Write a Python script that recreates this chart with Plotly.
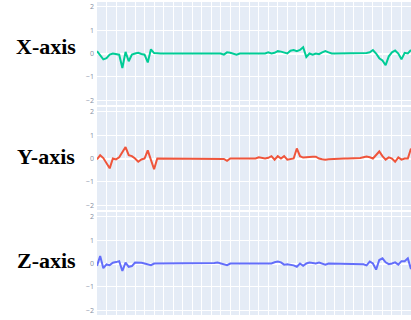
import plotly.graph_objects as go

# Sample index
samples = list(range(100))

x_axis_vals = [0.1, -0.1, -0.25, -0.2, -0.05, 0.0, -0.02, -0.05, -0.62, 0.07,
               -0.33, -0.05, 0.0, 0.03, -0.02, -0.05, -0.38, 0.18, 0.02, 0.0,
               0.0, 0.0, 0.0, 0.0, 0.0, 0.0, 0.0, 0.0, 0.0, 0.0,
               0.0, 0.0, 0.0, 0.0, 0.0, 0.0, 0.0, 0.0, 0.0, 0.0,
               -0.05, 0.05, 0.03, 0.0, -0.05, 0.0, 0.0, 0.0, 0.0, 0.0,
               0.0, 0.0, 0.0, 0.0, 0.05, 0.0, 0.03, 0.1, 0.08, 0.03,
               0.0, 0.12, 0.15, 0.1, 0.15, 0.27, -0.15, 0.0, -0.05, 0.0,
               -0.03, 0.05, 0.1, 0.05, 0.0, 0.0, 0.0, 0.0, 0.0, 0.0,
               0.0, 0.0, 0.0, 0.0, 0.0, 0.02, 0.05, 0.15, 0.0, -0.2,
               -0.3, -0.5, -0.12, 0.05, 0.13, 0.0, -0.25, 0.03, 0.0, 0.15]

y_axis_vals = [-0.04, 0.14, 0.02, -0.2, -0.42, 0.0, -0.04, 0.05, 0.25, 0.49,
               0.14, 0.1, 0.0, -0.14, -0.04, 0.0, 0.35, -0.1, -0.46, 0.0,
               0.0, 0.0, 0.0, 0.0, 0.0, 0.0, 0.0, 0.0, 0.0, 0.0,
               0.0, 0.0, 0.0, 0.0, 0.0, 0.0, 0.0, 0.0, 0.0, 0.0,
               -0.02, -0.1, 0.0, 0.0, 0.0, 0.0, 0.0, 0.0, 0.0, 0.0,
               0.0, 0.05, 0.02, 0.0, 0.03, 0.1, -0.05, 0.1, 0.0, 0.1,
               -0.05, -0.02, 0.0, 0.43, 0.1, 0.04, 0.06, 0.08, 0.08, 0.08,
               0.0, -0.03, -0.05, -0.03, -0.02, 0.0, 0.0, 0.0, 0.0, 0.0,
               0.0, 0.0, 0.0, 0.02, 0.05, 0.08, 0.05, 0.0, 0.15, 0.3,
               0.1, -0.05, 0.05, 0.0, -0.14, 0.05, -0.05, 0.0, 0.0, 0.43]

z_axis_vals = [-0.1, 0.32, -0.2, -0.04, -0.07, 0.03, 0.06, 0.1, -0.32, 0.04,
               -0.14, -0.11, 0.04, 0.04, 0.03, 0.0, -0.05, -0.07, 0.0, 0.0,
               0.0, 0.0, 0.0, 0.0, 0.0, 0.0, 0.0, 0.0, 0.0, 0.0,
               0.0, 0.0, 0.0, 0.0, 0.0, 0.0, 0.0, 0.02, 0.04, 0.0,
               -0.05, -0.07, 0.0, 0.0, 0.0, 0.0, 0.0, 0.0, 0.0, 0.0,
               0.0, 0.0, 0.0, 0.0, 0.0, 0.0, 0.05, 0.08, 0.05, -0.05,
               -0.03, -0.05, -0.08, -0.14, 0.0, -0.1, 0.0, 0.04, 0.02, 0.0,
               0.04, -0.02, -0.05, 0.0, 0.0, 0.0, 0.0, 0.0, 0.0, 0.0,
               0.0, 0.0, 0.0, 0.0, -0.03, -0.08, 0.08, 0.0, -0.26, 0.15,
               0.22, 0.05, -0.03, 0.0, 0.05, -0.05, 0.1, 0.1, 0.22, -0.24]

labels = ["X-axis", "Y-axis", "Z-axis"]
colors = ["#00cc96", "#EF553B", "#636efa"]
y_ticks = [-2, -1, 0, 1, 2]

W, H = 411, 320
domains = [[1 - 105 / H, 1 - 2 / H], [1 - 210 / H, 1 - 107 / H], [1 - 315 / H, 1 - 212 / H]]
label_y = [1 - 46.5 / H, 1 - 156 / H, 1 - 260 / H]

fig = go.Figure()
series = [x_axis_vals, y_axis_vals, z_axis_vals]
for k, vals in enumerate(series):
    suffix = "" if k == 0 else str(k + 1)
    fig.add_trace(go.Scatter(x=samples, y=vals, mode="lines",
                             line=dict(color=colors[k], width=2),
                             xaxis="x" + suffix, yaxis="y" + suffix,
                             showlegend=False))
    fig.layout["xaxis" + suffix] = dict(
        domain=[97 / W, 1], range=[0, 99], dtick=3, tick0=0,
        showticklabels=False, anchor="y" + suffix,
        gridcolor="white", gridwidth=1, zeroline=False)
    fig.layout["yaxis" + suffix] = dict(
        domain=domains[k], range=[-2.2, 2.2], tickvals=y_ticks,
        anchor="x" + suffix, gridcolor="white", zerolinecolor="white",
        tickfont=dict(size=7, color="#8590a3"), ticklabelstandoff=2)
    fig.add_annotation(text="<b>" + labels[k] + "</b>", x=46 / W, y=label_y[k],
                       xref="paper", yref="paper", showarrow=False,
                       xanchor="center", yanchor="middle",
                       font=dict(family="Liberation Serif", size=22, color="black"))

fig.update_layout(width=W, height=H, template="plotly",
                  margin=dict(l=0, r=0, t=0, b=0),
                  plot_bgcolor="#E5ECF6", paper_bgcolor="white")
fig.write_html("out.html")
